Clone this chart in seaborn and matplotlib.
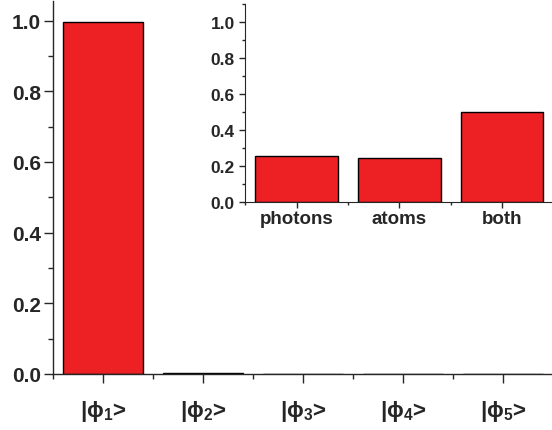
import pandas as pd
import seaborn as sns
import matplotlib.pyplot as plt
from matplotlib.ticker import MultipleLocator, FixedLocator

# Datos
estados = ['|ϕ$_1$>', '|ϕ$_2$>', '|ϕ$_3$>', '|ϕ$_4$>', '|ϕ$_5$>']
prob_estados = [0.997, 0.004, 0.0, 0.0, 0.0]

grupos = ['photons', 'atoms', 'both']
prob_grupos = [0.255, 0.245, 0.50]

rojo = '#ED2024'

sns.set_style('ticks')
plt.rcParams['font.family'] = ['Liberation Sans', 'DejaVu Sans']
plt.rcParams['font.weight'] = 'bold'
plt.rcParams['mathtext.fontset'] = 'custom'
plt.rcParams['mathtext.rm'] = 'Liberation Sans:bold'
plt.rcParams['mathtext.it'] = 'Liberation Sans:bold'
plt.rcParams['mathtext.bf'] = 'Liberation Sans:bold'

df_main = pd.DataFrame({'estado': estados, 'p': prob_estados})
df_ins = pd.DataFrame({'grupo': grupos, 'p': prob_grupos})

fig = plt.figure(figsize=(5.52, 4.31), dpi=100)

# Gráfico principal
ax = fig.add_axes([0.096, 0.130, 0.906, 0.865])
sns.barplot(data=df_main, x='estado', y='p', color=rojo, saturation=1,
            width=0.8, edgecolor='black', linewidth=1, ax=ax)
ax.set_xlim(-0.5, 4.5)
ax.set_ylim(0, 1.055)
ax.yaxis.set_minor_locator(MultipleLocator(0.1))
ax.xaxis.set_minor_locator(FixedLocator([-0.5, 0.5, 1.5, 2.5, 3.5, 4.5]))
ax.set_yticks([0, 0.2, 0.4, 0.6, 0.8, 1.0])
ax.set_yticklabels(['0.0', '0.2', '0.4', '0.6', '0.8', '1.0'])
ax.tick_params(axis='both', which='major', length=6.5, width=1, labelsize=15)
ax.tick_params(axis='both', which='minor', length=3.5, width=1)
ax.tick_params(axis='x', labelsize=16, pad=11)
ax.tick_params(axis='y', pad=2)
ax.set_xlabel('')
ax.set_ylabel('')
sns.despine(ax=ax)
for s in ['left', 'bottom']:
    ax.spines[s].set_linewidth(1)

# Recuadro interior
ins = fig.add_axes([0.444, 0.529, 0.559, 0.459])
sns.barplot(data=df_ins, x='grupo', y='p', color=rojo, saturation=1,
            width=0.8, edgecolor='black', linewidth=1, ax=ins)
ins.set_xlim(-0.5, 2.5)
ins.set_ylim(0, 1.1)
ins.set_yticks([0, 0.2, 0.4, 0.6, 0.8, 1.0])
ins.set_yticklabels(['0.0', '0.2', '0.4', '0.6', '0.8', '1.0'])
ins.yaxis.set_minor_locator(MultipleLocator(0.1))
ins.xaxis.set_minor_locator(FixedLocator([-0.5, 0.5, 1.5, 2.5]))
ins.tick_params(axis='both', which='major', length=4, width=1, labelsize=12.5)
ins.tick_params(axis='both', which='minor', length=2.5, width=1)
ins.tick_params(axis='x', labelsize=13.5, pad=2)
ins.set_xlabel('')
ins.set_ylabel('')
ins.patch.set_alpha(0)
sns.despine(ax=ins)

fig.savefig('out.png', dpi=100)
